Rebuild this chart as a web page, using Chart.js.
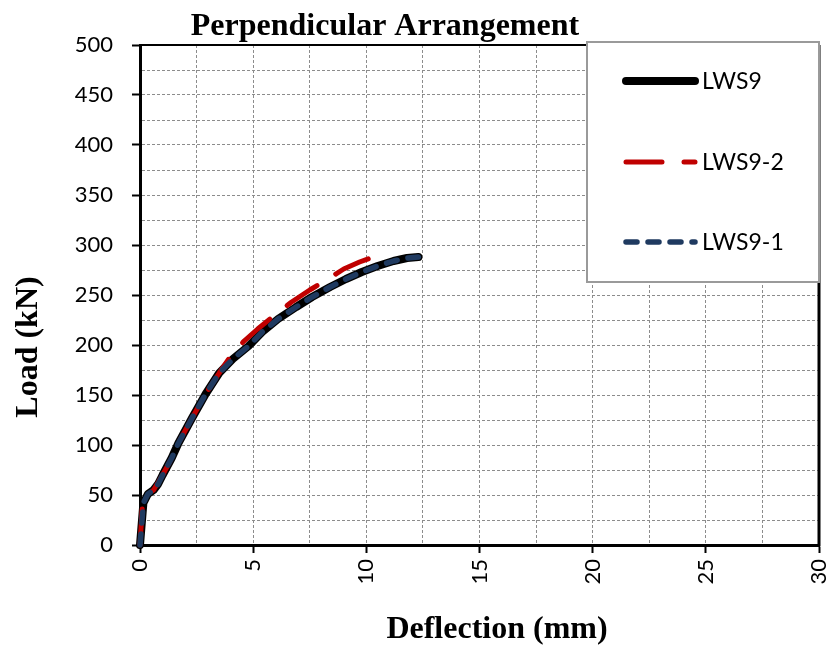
<!DOCTYPE html>
<html><head><meta charset="utf-8">
<script src="https://cdn.jsdelivr.net/npm/chart.js@4.4.1/dist/chart.umd.min.js"></script>
<style>html,body{margin:0;padding:0;background:#fff;} canvas{display:block;}</style>
</head><body>
<canvas id="c" width="833" height="646"></canvas>
<script>
const chartTitle = 'Perpendicular Arrangement';
const xAxisTitle = 'Deflection (mm)';
const yAxisTitle = 'Load (kN)';
const seriesNames = ['LWS9', 'LWS9-2', 'LWS9-1'];

const lws9Deflection = [0, 0.15, 0.35, 0.6, 0.8, 1.0, 1.4, 1.7, 2.3, 2.9, 3.5, 4.1, 4.8, 5.4, 6.1, 6.9, 7.6, 8.4, 9.1, 9.8, 10.5, 11.2, 11.8, 12.3];
const lws9Load       = [0, 42, 51, 55, 61, 70, 87, 102, 127, 151, 172, 186, 199, 213, 226, 238, 248, 258, 266, 273, 279, 284, 287, 288];

const lws92Deflection = [0, 0.1, 0.3, 0.6, 1.0, 1.4, 1.7, 2.3, 2.9, 3.5, 4.1, 4.6, 5.2, 5.9, 6.7, 7.5, 8.3, 9.0, 9.7, 10.3, 10.6];
const lws92Load       = [0, 38, 50, 55, 70, 87, 102, 127, 151, 172, 192, 204, 216, 229, 243, 255, 266, 276, 283, 288, 290];

const lws91Deflection = [0, 0.15, 0.35, 0.6, 0.8, 1.0, 1.4, 1.7, 2.3, 2.9, 3.5, 4.1, 4.8, 5.4, 6.1, 6.9, 7.6, 8.4, 9.1, 9.8, 10.5, 11.2, 11.8, 12.3];
const lws91Load       = [0, 42, 51, 55, 61, 70, 87, 102, 127, 151, 172, 186, 199, 213, 226, 238, 248, 258, 266, 273, 279, 284, 287, 288];

const xTickLabels = [0, 5, 10, 15, 20, 25, 30];
const yTickLabels = [0, 50, 100, 150, 200, 250, 300, 350, 400, 450, 500];

function pts(xs, ys) { return xs.map((x, i) => ({x: x, y: ys[i]})); }

const bgPlugin = {
  id: 'bg',
  beforeDraw(chart) {
    const ctx = chart.ctx;
    ctx.save(); ctx.fillStyle = '#fff'; ctx.fillRect(0, 0, chart.width, chart.height); ctx.restore();
  },
  beforeDatasetsDraw(chart) {
    const {ctx, chartArea: a} = chart;
    ctx.save();
    ctx.strokeStyle = '#000';
    ctx.lineWidth = 2;
    ctx.beginPath(); ctx.moveTo(a.left, a.top); ctx.lineTo(a.right, a.top); ctx.stroke();
    ctx.lineWidth = 3;
    ctx.beginPath(); ctx.moveTo(a.right, a.top); ctx.lineTo(a.right, a.bottom + 1.5); ctx.stroke();
    ctx.restore();
  },
  afterDraw(chart) {
    const ctx = chart.ctx;
    ctx.save();
    ctx.fillStyle = '#000';
    ctx.font = 'bold 32px "Liberation Serif", "Times New Roman", serif';
    ctx.textAlign = 'center';
    ctx.textBaseline = 'alphabetic';
    ctx.fillText(chartTitle, 385, 35);
    ctx.fillText(xAxisTitle, 497, 638);
    ctx.translate(37, 347);
    ctx.rotate(-Math.PI / 2);
    ctx.fillText(yAxisTitle, 0, 0);
    ctx.restore();

    // legend
    ctx.save();
    const bx = 587, by = 42, bw = 232, bh = 240;
    ctx.fillStyle = '#fff';
    ctx.fillRect(bx, by, bw, bh);
    ctx.strokeStyle = '#9a9a9a';
    ctx.lineWidth = 2;
    ctx.strokeRect(bx, by, bw, bh);
    const rows = [81, 162, 242];
    chart.data.datasets.forEach((ds, i) => {
      const y = rows[i];
      ctx.save();
      ctx.strokeStyle = ds.borderColor;
      ctx.lineWidth = ds.borderWidth;
      ctx.lineCap = 'round';
      ctx.setLineDash(ds.borderDash || []);
      ctx.beginPath(); ctx.moveTo(626, y); ctx.lineTo(695, y); ctx.stroke();
      ctx.restore();
      ctx.fillStyle = '#000';
      ctx.font = '23px Lato, "Open Sans", sans-serif';
      ctx.textAlign = 'left';
      ctx.textBaseline = 'middle';
      ctx.fillText(ds.label, 702, y + 1);
    });
    ctx.restore();
  }
};

const gridCommon = {
  color: '#8c8c8c',
  lineWidth: 1,
  tickLength: 8,
  tickWidth: 2,
  tickBorderDash: []
};

new Chart(document.getElementById('c'), {
  type: 'scatter',
  data: {
    datasets: [
      { label: seriesNames[0], data: pts(lws9Deflection, lws9Load), showLine: true, borderColor: '#000000', backgroundColor: '#000000', borderWidth: 8, pointRadius: 0, borderCapStyle: 'round', borderJoinStyle: 'round', tension: 0, order: 3, clip: false },
      { label: seriesNames[1], data: pts(lws92Deflection, lws92Load), showLine: true, borderColor: '#c00000', backgroundColor: '#c00000', borderWidth: 5, borderDash: [36, 22], pointRadius: 0, borderCapStyle: 'round', borderJoinStyle: 'round', tension: 0, order: 2, clip: false },
      { label: seriesNames[2], data: pts(lws91Deflection, lws91Load), showLine: true, borderColor: '#1f3a60', backgroundColor: '#1f3a60', borderWidth: 5.5, borderDash: [11, 11], pointRadius: 0, borderCapStyle: 'round', borderJoinStyle: 'round', tension: 0, order: 1, clip: false }
    ]
  },
  options: {
    responsive: false,
    animation: false,
    devicePixelRatio: 1,
    layout: { padding: { top: 45, right: 14, left: 0, bottom: 0 } },
    plugins: { legend: { display: false }, title: { display: false }, tooltip: { enabled: false } },
    scales: {
      x: {
        type: 'linear', min: 0, max: 30,
        afterFit(s) { s.height = 101; s.paddingRight = 0; s.paddingLeft = 0; },
        ticks: {
          stepSize: 2.5, autoSkip: false, maxRotation: 90, minRotation: 90, padding: 6,
          color: '#000', font: { family: 'Lato', size: 22 },
          callback: v => xTickLabels.includes(v) ? String(v) : ''
        },
        grid: Object.assign({}, gridCommon, {
          tickColor: c => (c.tick && xTickLabels.includes(c.tick.value)) ? '#000' : 'rgba(0,0,0,0)'
        }),
        border: { display: true, color: '#000', width: 3, dash: [3, 2] }
      },
      y: {
        type: 'linear', min: 0, max: 500,
        afterFit(s) { s.width = 140; s.paddingTop = 0; s.paddingBottom = 0; },
        ticks: {
          stepSize: 25, autoSkip: false, padding: 19,
          color: '#000', font: { family: 'Lato', size: 22 },
          callback: v => yTickLabels.includes(v) ? String(v) : ''
        },
        grid: Object.assign({}, gridCommon, {
          tickColor: c => (c.tick && yTickLabels.includes(c.tick.value)) ? '#000' : 'rgba(0,0,0,0)'
        }),
        border: { display: true, color: '#000', width: 3, dash: [3, 2] }
      }
    }
  },
  plugins: [bgPlugin]
});
</script>
</body></html>
